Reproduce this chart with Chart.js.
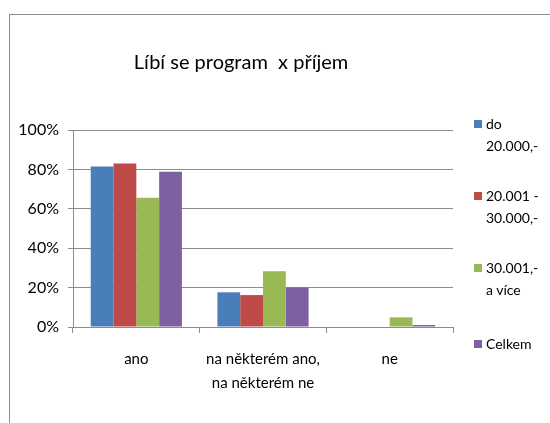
<!DOCTYPE html>
<html>
<head>
<meta charset="utf-8">
<script src="https://cdn.jsdelivr.net/npm/chart.js@4"></script>
<style>
  html, body { margin: 0; padding: 0; background: #fff; }
  #wrap { position: relative; width: 550px; height: 423px; }
  #frame { position: absolute; left: 9px; top: 14px; right: 0; bottom: 0; border-top: 1px solid #8c8c8c; border-left: 1px solid #8c8c8c; }
  #legend { position: absolute; left: 474px; top: 113px; font-family: Lato, sans-serif; font-size: 14px; color: #000; }
  #legend .item { position: absolute; left: 0; width: 80px; line-height: 22px; }
  #legend .box { position: absolute; left: 0; top: 7px; width: 8px; height: 8px; }
  #legend .txt { margin-left: 12px; }
</style>
</head>
<body>
<div id="wrap">
  <div id="frame"></div>
  <canvas id="chart" width="550" height="423"></canvas>
  <div id="legend"></div>
</div>
<script>
"use strict";

// Data
const categories = ['ano', ['na některém ano,', 'na některém ne'], 'ne'];
const seriesNames = [['do', '20.000,-'], ['20.001  -', '30.000,-'], ['30.001,-', 'a více'], ['Celkem']];
const seriesColors = ['#4a7ebb', '#be4b48', '#98b954', '#7d60a0'];
const do20000 = [81.5, 17.6, 0];
const od20001 = [83.0, 16.2, 0];
const od30001 = [65.6, 28.3, 4.9];
const celkem = [78.8, 20.0, 1.0];
const yTicks = [0, 20, 40, 60, 80, 100];

const seriesValues = [do20000, od20001, od30001, celkem];

// Title plugin (centered over the whole frame)
const titlePlugin = {
    id: 'titlePlugin',
    afterDraw: chart => {
        const ctx = chart.ctx;
        ctx.save();
        ctx.font = '20px Lato, sans-serif';
        ctx.fillStyle = '#000';
        ctx.textAlign = 'center';
        ctx.textBaseline = 'alphabetic';
        ctx.fillText('Líbí se program  x příjem', 241, 69);
        ctx.restore();
    }
};

const chart = new Chart(document.getElementById('chart').getContext('2d'), {
    type: 'bar',
    data: {
        labels: categories,
        datasets: seriesValues.map((vals, i) => ({
            label: seriesNames[i].join(' '),
            data: vals,
            backgroundColor: seriesColors[i],
            borderWidth: 0,
            categoryPercentage: 0.72,
            barPercentage: 1
        }))
    },
    options: {
        responsive: false,
        animation: false,
        layout: { padding: { left: 0, right: 97, top: 130, bottom: 0 } },
        plugins: {
            legend: { display: false },
            title: { display: false },
            tooltip: { enabled: false }
        },
        scales: {
            x: {
                afterFit: axis => { axis.height = 96; },
                grid: {
                    display: true,
                    offset: true,
                    drawOnChartArea: false,
                    drawTicks: true,
                    tickLength: 6,
                    color: '#8c8c8c'
                },
                border: { color: '#8c8c8c' },
                ticks: {
                    color: '#000',
                    padding: 14,
                    maxRotation: 0,
                    font: { family: 'Lato, sans-serif', size: 15, lineHeight: 1.6 }
                }
            },
            y: {
                min: 0,
                max: 100,
                afterFit: axis => { axis.width = 73; },
                afterBuildTicks: axis => { axis.ticks = yTicks.map(v => ({ value: v })); },
                grid: {
                    color: '#8c8c8c',
                    tickLength: 5
                },
                border: { color: '#8c8c8c' },
                ticks: {
                    color: '#000',
                    padding: 9,
                    callback: v => v + '%',
                    font: { family: 'Lato, sans-serif', size: 16 }
                }
            }
        }
    },
    plugins: [titlePlugin]
});

// Legend (wrapped labels, as in the reference)
const legendTops = [0, 72, 144, 220];
const legend = document.getElementById('legend');
seriesNames.forEach((name, i) => {
    const item = document.createElement('div');
    item.className = 'item';
    item.style.top = legendTops[i] + 'px';
    item.innerHTML = `<span class="box" style="background:${ seriesColors[i] }"></span><div class="txt">${ name.join('<br>') }</div>`;
    legend.appendChild(item);
});
</script>
</body>
</html>
